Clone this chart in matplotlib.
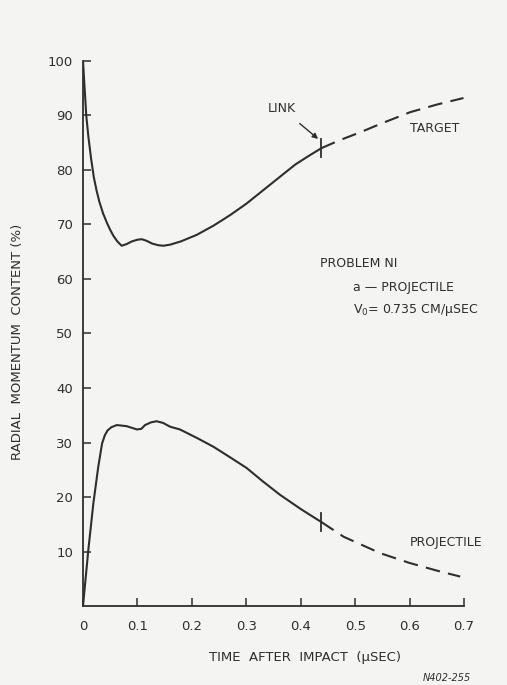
import matplotlib.pyplot as plt

# Radial momentum content vs. time after impact (problem N1)
target_t = [0, 0.003, 0.006, 0.01, 0.015, 0.02, 0.025, 0.03, 0.037, 0.044, 0.05, 0.056,
            0.063, 0.071, 0.08, 0.09, 0.1, 0.108, 0.117, 0.127, 0.138, 0.148, 0.16,
            0.18, 0.209, 0.24, 0.27, 0.3, 0.33, 0.36, 0.39, 0.415, 0.438]
target_pct = [100, 95, 90, 86, 82, 78.6, 76.2, 74.2, 72.0, 70.3, 69.0, 67.9,
              66.9, 66.1, 66.4, 66.9, 67.2, 67.3, 67.0, 66.5, 66.2, 66.1, 66.3,
              66.9, 68.1, 69.8, 71.7, 73.8, 76.2, 78.6, 81.0, 82.6, 84.0]
target_ext_t = [0.438, 0.47, 0.509, 0.55, 0.601, 0.65, 0.699]
target_ext_pct = [84.0, 85.4, 86.9, 88.6, 90.6, 92.0, 93.2]

proj_t = [0, 0.01, 0.019, 0.028, 0.035, 0.04, 0.045, 0.052, 0.062, 0.08, 0.099, 0.107,
          0.114, 0.125, 0.135, 0.147, 0.16, 0.178, 0.21, 0.24, 0.27, 0.301, 0.33,
          0.362, 0.4, 0.438]
proj_pct = [0, 10.5, 18.8, 25.5, 29.8, 31.3, 32.2, 32.8, 33.2, 33.0, 32.4, 32.5,
            33.2, 33.7, 33.9, 33.6, 32.9, 32.4, 30.8, 29.2, 27.3, 25.3, 22.9,
            20.4, 17.8, 15.4]
proj_ext_t = [0.438, 0.479, 0.546, 0.6, 0.65, 0.693]
proj_ext_pct = [15.4, 12.7, 9.7, 7.9, 6.5, 5.4]

link_t = 0.438
x_ticks = [0, 0.1, 0.2, 0.3, 0.4, 0.5, 0.6, 0.7]
x_tick_labels = ['0', '0.1', '0.2', '0.3', '0.4', '0.5', '0.6', '0.7']
y_ticks = [10, 20, 30, 40, 50, 60, 70, 80, 90, 100]

ink = '#2e2e2e'
paper = '#f4f4f2'

fig = plt.figure(figsize=(5.07, 6.85), dpi=100, facecolor=paper)
ax = fig.add_axes([0.1637, 0.1153, 0.7515, 0.7957])
ax.set_facecolor(paper)

# curves: solid up to the link time, dashed afterwards
ax.plot(target_t, target_pct, color=ink, lw=1.5, solid_capstyle='round',
        solid_joinstyle='round')
ax.plot(target_ext_t, target_ext_pct, color=ink, lw=1.5, dashes=(7, 4))
ax.plot(proj_t, proj_pct, color=ink, lw=1.5, solid_capstyle='round',
        solid_joinstyle='round')
ax.plot(proj_ext_t, proj_ext_pct, color=ink, lw=1.5, dashes=(7, 4))

# link markers
ax.plot([link_t, link_t], [target_pct[-1] - 1.7, target_pct[-1] + 1.7], color=ink, lw=1.3)
ax.plot([link_t, link_t], [proj_pct[-1] - 1.7, proj_pct[-1] + 1.7], color=ink, lw=1.3)

ax.set_xlim(0, 0.7)
ax.set_ylim(0, 100)
ax.set_xticks(x_ticks)
ax.set_xticklabels(x_tick_labels)
ax.set_yticks(y_ticks)
ax.tick_params(direction='in', length=6, width=1.1, color=ink, labelcolor=ink,
               labelsize=9.5)
ax.tick_params(axis='x', pad=10)
ax.tick_params(axis='y', pad=7)
for side in ['top', 'right']:
    ax.spines[side].set_visible(False)
for side in ['left', 'bottom']:
    ax.spines[side].set_color(ink)
    ax.spines[side].set_linewidth(1.3)

txt = dict(color=ink, fontsize=9)
ax.annotate('LINK', xy=(0.432, 85.7), xytext=(0.366, 91.2), ha='center', va='center',
            arrowprops=dict(arrowstyle='-|>', color=ink, lw=1.0, mutation_scale=8,
                            shrinkA=6, shrinkB=0), **txt)
ax.text(0.601, 87.7, 'TARGET', ha='left', va='center', **txt)
ax.text(0.601, 11.7, 'PROJECTILE', ha='left', va='center', clip_on=False, **txt)
ax.text(0.436, 62.9, 'PROBLEM NI', ha='left', va='center', **txt)
ax.text(0.496, 58.4, 'a \u2014 PROJECTILE', ha='left', va='center', **txt)
ax.text(0.496, 54.4, 'V$_0$= 0.735 CM/\u03bcSEC', ha='left', va='center',
        clip_on=False, **txt)

fig.text(18 / 507, 1 - 342 / 685, 'RADIAL  MOMENTUM  CONTENT (%)', rotation=90,
         ha='center', va='center', color=ink, fontsize=9.5)
fig.text(305 / 507, 1 - 657 / 685, 'TIME  AFTER  IMPACT  (\u03bcSEC)',
         ha='center', va='center', color=ink, fontsize=9.5)
fig.text(447 / 507, 1 - 678 / 685, 'N402-255', ha='center', va='center',
         color=ink, fontsize=7, style='italic')

fig.savefig('out.png', dpi=100, facecolor=paper)
